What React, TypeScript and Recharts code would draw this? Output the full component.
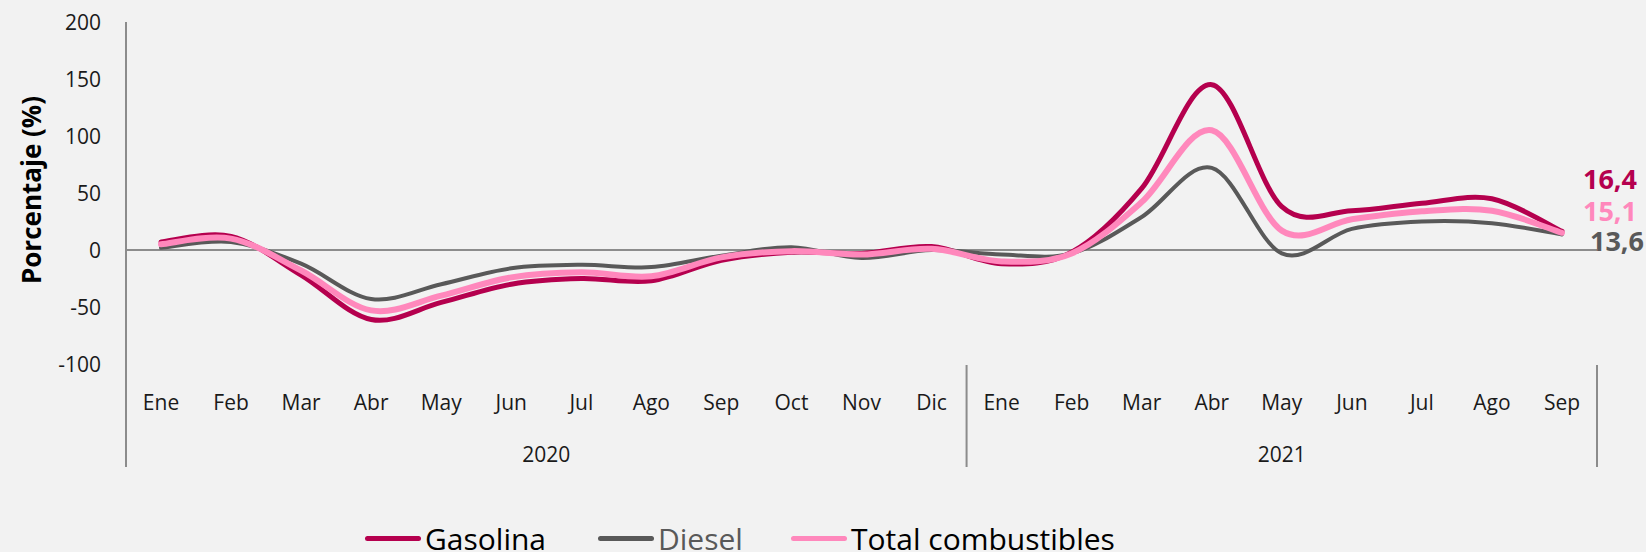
import { LineChart, Line, XAxis, YAxis, ReferenceLine, LabelList, Customized } from "recharts"

const months = ["Ene", "Feb", "Mar", "Abr", "May", "Jun", "Jul", "Ago", "Sep", "Oct", "Nov", "Dic", "Ene", "Feb", "Mar", "Abr", "May", "Jun", "Jul", "Ago", "Sep"]
const years = ["2020", "2020", "2020", "2020", "2020", "2020", "2020", "2020", "2020", "2020", "2020", "2020", "2021", "2021", "2021", "2021", "2021", "2021", "2021", "2021", "2021"]

const gasolina = [7, 12, -22, -61, -46, -30, -25, -27, -9, -2, -3, 3, -12, -2, 54, 145, 38, 34.5, 41, 45, 16.4]
const diesel = [2, 7, -12, -43, -30, -16, -13, -15, -5, 2.5, -7, 0, -4, -3, 29, 72, -3, 18.5, 25, 23.5, 13.6]
const total = [5, 10, -18, -53, -40, -24, -19.5, -23, -6.5, -1, -4, 1, -10, -3, 42, 105, 17, 27, 34, 34.5, 15.1]

const yTicks = [-100, -50, 0, 50, 100, 150, 200]

const series = [
  { key: "gasolina", name: "Gasolina", color: "#B5004E", width: 5, dx: 21, dy: -53, textColor: "#000" },
  { key: "diesel", name: "Diesel", color: "#595959", width: 4, dx: 28, dy: 6, textColor: "#595959" },
  { key: "total", name: "Total combustibles", color: "#FF88BC", width: 6, dx: 21, dy: -22, textColor: "#000" },
]

const data = months.map((m, i) => ({
  id: `${m}-${years[i]}`,
  gasolina: gasolina[i],
  diesel: diesel[i],
  total: total[i],
}))

const W = 1646
const H = 552
const M = { top: 22, right: 49, bottom: 0, left: 0 }
const Y_W = 126
const X_H = 188
const BAND = (W - M.right - M.left - Y_W) / months.length
const FONT = "'Open Sans', 'Noto Sans', sans-serif"
const AXIS_GRAY = "#8C8C8C"

// Excel-like smoothed line (Catmull-Rom as cubic beziers)
const excelCurve = (context: any) => {
  let pts: number[][] = []
  return {
    areaStart() {},
    areaEnd() {},
    lineStart() {
      pts = []
    },
    point(x: number, y: number) {
      pts.push([+x, +y])
    },
    lineEnd() {
      const n = pts.length
      if (!n) return
      context.moveTo(pts[0][0], pts[0][1])
      for (let i = 0; i < n - 1; i++) {
        const p0 = pts[i > 0 ? i - 1 : i]
        const p1 = pts[i]
        const p2 = pts[i + 1]
        const p3 = pts[i + 2 < n ? i + 2 : i + 1]
        context.bezierCurveTo(
          p1[0] + (p2[0] - p0[0]) / 6,
          p1[1] + (p2[1] - p0[1]) / 6,
          p2[0] - (p3[0] - p1[0]) / 6,
          p2[1] - (p3[1] - p1[1]) / 6,
          p2[0],
          p2[1]
        )
      }
    },
  }
}

const MonthTick = (props: any) => {
  const { x, y, payload } = props
  const i = payload.index
  const half = BAND / 2
  const isFirst = i === 0 || years[i] !== years[i - 1]
  let yearLabel = null
  if (isFirst) {
    const count = years.filter((yr) => yr === years[i]).length
    yearLabel = (
      <text x={x + ((count - 1) * BAND) / 2} y={y + 90} textAnchor="middle" dominantBaseline="central" fontSize={21} fill="#1a1a1a" fontFamily={FONT}>
        {years[i]}
      </text>
    )
  }
  return (
    <g>
      <text x={x} y={y + 38} textAnchor="middle" dominantBaseline="central" fontSize={21} fill="#1a1a1a" fontFamily={FONT}>
        {months[i]}
      </text>
      {isFirst && <line x1={x - half} x2={x - half} y1={i === 0 ? y - 2 : y + 1} y2={y + 103} stroke={AXIS_GRAY} strokeWidth={2} />}
      {i === months.length - 1 && <line x1={x + half} x2={x + half} y1={y + 1} y2={y + 103} stroke={AXIS_GRAY} strokeWidth={2} />}
      {yearLabel}
    </g>
  )
}

const ValueTick = (props: any) => {
  const { x, y, payload } = props
  return (
    <text x={x} y={y} textAnchor="end" dominantBaseline="central" fontSize={21} fill="#1a1a1a" fontFamily={FONT}>
      {payload.value}
    </text>
  )
}

const endLabel = (s: any) => (props: any) => {
  const { x, y, value, index } = props
  if (index !== months.length - 1) return null
  return (
    <text x={x + s.dx} y={y + s.dy} dominantBaseline="central" fontSize={27} fontWeight={700} fill={s.color} fontFamily={FONT}>
      {String(value).replace(".", ",")}
    </text>
  )
}

export default function App() {
  return (
    <div style={{ position: "absolute", left: 0, top: 0, width: W, height: H, background: "#F2F2F2", overflow: "hidden" }}>
      <LineChart width={W} height={H} data={data} margin={M}>
        <XAxis
          dataKey="id"
          interval={0}
          axisLine={false}
          tickLine={false}
          tickSize={0}
          tickMargin={0}
          height={X_H}
          padding={{ left: BAND / 2, right: BAND / 2 }}
          tick={<MonthTick />}
        />
        <YAxis
          domain={[-100, 200]}
          ticks={yTicks}
          width={Y_W}
          tickLine={false}
          tickSize={0}
          tickMargin={25}
          axisLine={{ stroke: AXIS_GRAY, strokeWidth: 2 }}
          tick={<ValueTick />}
          allowDataOverflow
        />
        <ReferenceLine y={0} stroke={AXIS_GRAY} strokeWidth={2} />
        {series.map((s) => (
          <Line
            key={s.key}
            dataKey={s.key}
            name={s.name}
            type={excelCurve as any}
            stroke={s.color}
            strokeWidth={s.width}
            strokeLinecap="round"
            dot={false}
            activeDot={false}
            isAnimationActive={false}
          >
            <LabelList dataKey={s.key} content={endLabel(s)} />
          </Line>
        ))}
        <Customized
          component={() => (
            <text transform="translate(31,190) rotate(-90)" textAnchor="middle" dominantBaseline="central" fontSize={26} fontWeight={700} fill="#000" fontFamily={FONT}>
              Porcentaje (%)
            </text>
          )}
        />
      </LineChart>
      {series.map((s, i) => (
        <div
          key={s.key}
          style={{
            position: "absolute",
            left: [365, 598, 791][i],
            top: 518,
            height: 40,
            display: "flex",
            alignItems: "center",
            fontFamily: FONT,
            fontSize: 30,
            color: s.textColor,
            whiteSpace: "nowrap",
          }}
        >
          <span style={{ display: "inline-block", width: 56, height: 5, borderRadius: 3, background: s.color, marginRight: 4 }} />
          {s.name}
        </div>
      ))}
    </div>
  )
}
